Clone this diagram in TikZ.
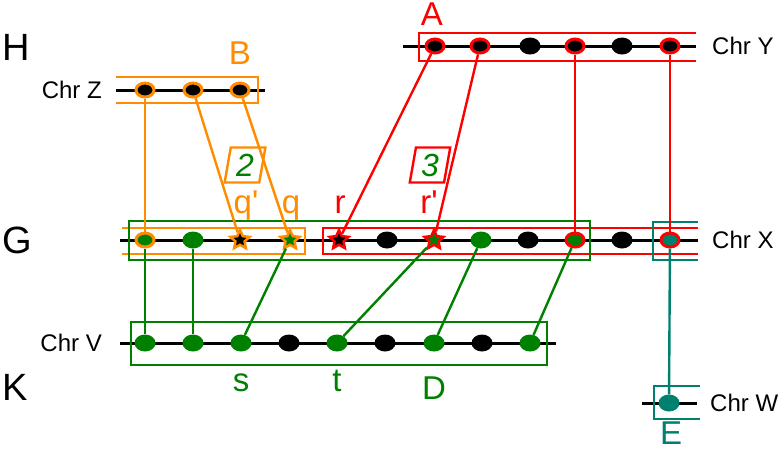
\documentclass[tikz,border=0pt]{standalone}
\usepackage{fontspec}
\setmainfont{Liberation Sans}
\usetikzlibrary{shapes.geometric}

\definecolor{orng}{RGB}{255,140,0}
\definecolor{grn}{RGB}{0,128,0}
\definecolor{tl}{RGB}{0,128,110}
\definecolor{rd}{RGB}{255,0,0}

\begin{document}
\begin{tikzpicture}[x=1pt,y=-1pt,
  chr/.style={line width=3pt},
  box/.style={line width=2.8pt},
  link/.style={line width=2.4pt},
  dot/.style={ellipse,fill=black,minimum width=21pt,minimum height=17pt,inner sep=0pt},
  ring/.style={ellipse,draw=#1,line width=3pt,fill=black,minimum width=18pt,minimum height=14pt,inner sep=0pt},
  starnode/.style={star,star points=5,star point ratio=2.1,draw=#1,line width=2.5pt,fill=black,minimum size=20pt,inner sep=0pt},
  numbox/.style={trapezium,trapezium left angle=80,trapezium right angle=100,draw=#1,line width=2.4pt,text=grn,
    font=\fontsize{32}{32}\selectfont\itshape,minimum height=35pt,minimum width=22pt,inner sep=1pt},
  big/.style={font=\fontsize{38}{40}\selectfont,inner sep=0pt},
  lbl/.style={font=\fontsize{33}{35}\selectfont,inner sep=0pt},
  chrname/.style={font=\fontsize{24}{26}\selectfont,inner sep=0pt}]

\useasboundingbox (0,0) rectangle (782,451);

% chromosomes
\draw[chr] (403,46) -- (696,46);
\draw[chr] (116,90) -- (265,90);
\draw[chr] (120,240) -- (698,240);
\draw[chr] (120,343) -- (556,343);
\draw[chr] (642,403) -- (697,403);

% blocks
\draw[box,rd] (696,33) -- (419,33) -- (419,61) -- (696,61);
\draw[box,orng] (116,77) -- (258,77) -- (258,103) -- (116,103);
\draw[box,orng] (122,228) -- (305,228) -- (305,254) -- (122,254);
\draw[box,rd] (698,228) -- (323,228) -- (323,254) -- (698,254);
\draw[box,grn] (129,221) rectangle (590,260);
\draw[box,tl] (698,222) -- (653,222) -- (653,260) -- (698,260);
\draw[box,grn] (131,322) rectangle (547,365);
\draw[box,tl] (700,386) -- (654,386) -- (654,419) -- (700,419);

% Chr Y
\node[ring=rd] (y1) at (435,46) {};
\node[ring=rd] (y2) at (480,46) {};
\node[dot] (y3) at (530,46) {};
\node[ring=rd] (y4) at (575,46) {};
\node[dot] (y5) at (622,46) {};
\node[ring=rd] (y6) at (670,46) {};

% Chr Z
\node[ring=orng] (z1) at (145,90) {};
\node[ring=orng] (z2) at (193,90) {};
\node[ring=orng] (z3) at (240,90) {};

% Chr X
\node[ring=orng,fill=grn] (g1) at (145,240) {};
\node[dot,fill=grn] (g2) at (193,240) {};
\node[starnode=orng] (g3) at (240,240) {};
\node[starnode=orng,fill=grn] (g4) at (290,240) {};
\node[starnode=rd] (g5) at (339,240) {};
\node[dot] (g6) at (387,240) {};
\node[starnode=rd,fill=grn] (g7) at (434,240) {};
\node[dot,fill=grn] (g8) at (481,240) {};
\node[dot] (g9) at (528,240) {};
\node[ring=rd,fill=grn] (g10) at (575,240) {};
\node[dot] (g11) at (622,240) {};
\node[ring=rd,fill=tl] (g12) at (670,240) {};

% Chr V
\node[dot,fill=grn] (v1) at (145,343) {};
\node[dot,fill=grn] (v2) at (193,343) {};
\node[dot,fill=grn] (v3) at (241,343) {};
\node[dot] (v4) at (289,343) {};
\node[dot,fill=grn] (v5) at (337,343) {};
\node[dot] (v6) at (385,343) {};
\node[dot,fill=grn] (v7) at (434,343) {};
\node[dot] (v8) at (482,343) {};
\node[dot,fill=grn] (v9) at (530,343) {};

% Chr W
\node[dot,fill=tl] (w1) at (669,403) {};

% links
\draw[link,orng] (z1) -- (g1);
\draw[link,orng] (z2) -- (g3);
\draw[link,orng] (z3) -- (g4);
\draw[link,rd] (y1) -- (g5);
\draw[link,rd] (y2) -- (g7);
\draw[link,rd] (y4) -- (g10);
\draw[link,rd] (y6) -- (g12);
\draw[link,grn] (g1) -- (v1);
\draw[link,grn] (g2) -- (v2);
\draw[link,grn] (g4) -- (v3);
\draw[link,grn] (g7) -- (v5);
\draw[link,grn] (g8) -- (v7);
\draw[link,grn] (g10) -- (v9);
\draw[link,tl] (g12) -- (w1);

% labels
\node[big,anchor=west] (H) at (2,47) {H};
\node[big,anchor=west] (G) at (2,240) {G};
\node[big,anchor=west] (K) at (2,387) {K};

\node[chrname,anchor=west] (chrY) at (712,46) {Chr Y};
\node[chrname,anchor=east] (chrZ) at (102,90) {Chr Z};
\node[chrname,anchor=west] (chrX) at (712,240) {Chr X};
\node[chrname,anchor=east] (chrV) at (102,343) {Chr V};
\node[chrname,anchor=west] (chrW) at (710,403) {Chr W};

\node[lbl,text=rd] (A) at (432,14) {A};
\node[lbl,text=orng] (B) at (240,53) {B};
\node[lbl,text=grn] (D) at (434,388) {D};
\node[lbl,text=tl] (E) at (671,433) {E};

\node[lbl,text=orng,anchor=base] (qp) at (246,213) {q\textquotesingle};
\node[lbl,text=orng,anchor=base] (q) at (291,213) {q};
\node[lbl,text=rd,anchor=base] (r) at (340,213) {r};
\node[lbl,text=rd,anchor=base] (rp) at (429,213) {r\textquotesingle};
\node[lbl,text=grn,anchor=base] (s) at (241,391) {s};
\node[lbl,text=grn,anchor=base] (t) at (337,391) {t};

\node[numbox=orng] (two) at (245,165) {2};
\node[numbox=rd] (three) at (430,165) {3};

\end{tikzpicture}
\end{document}
